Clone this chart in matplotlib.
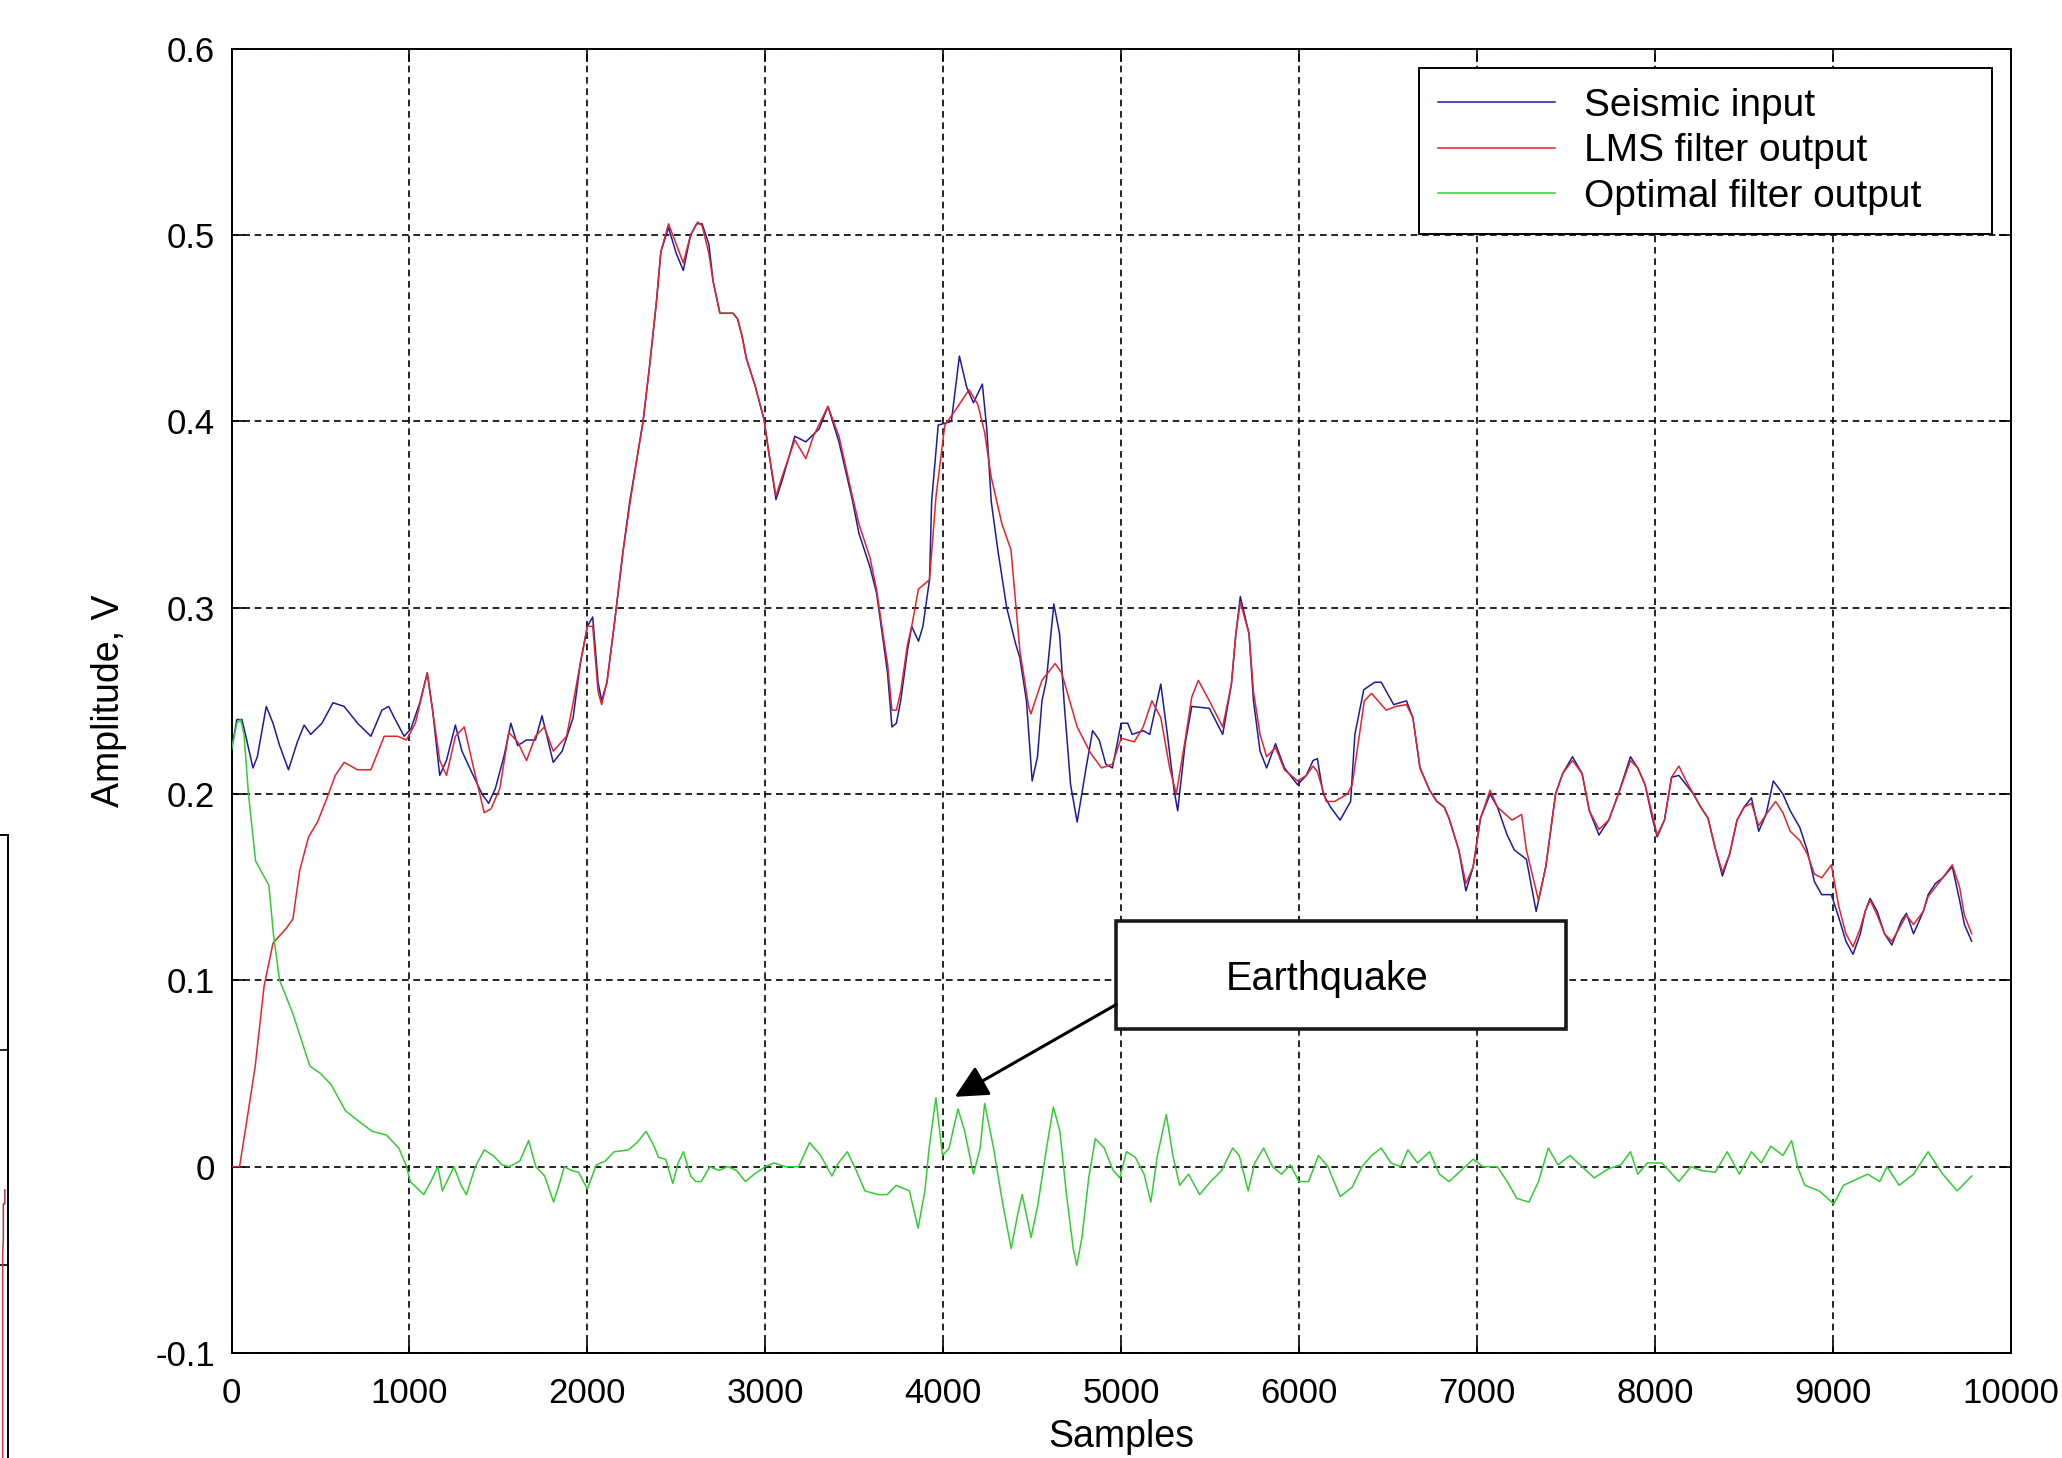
import matplotlib
matplotlib.use("Agg")
import matplotlib.pyplot as plt
from matplotlib.patches import Rectangle

plt.rcParams['font.family'] = ['Liberation Sans', 'DejaVu Sans']

# ---------------- data ----------------
seismic_x = [0, 30, 58, 78, 120, 145, 195, 233, 270, 320, 370, 408, 445, 508, 570, 633, 708, 783, 845, 883,
             920, 970, 1008, 1058, 1100, 1130, 1170, 1208, 1258, 1295, 1358, 1408, 1445, 1483, 1533, 1570,
             1608, 1658, 1708, 1745, 1808, 1858, 1920, 1960, 2000, 2030, 2060, 2080, 2110, 2150, 2200, 2238,
             2270, 2313, 2350, 2388, 2413, 2456, 2500, 2539, 2580, 2614, 2645, 2683, 2707, 2745, 2819, 2844,
             2869, 2893, 2943, 2993, 3017, 3060, 3100, 3166, 3228, 3303, 3352, 3414, 3489, 3526, 3588, 3625,
             3663, 3687, 3712, 3737, 3761, 3799, 3823, 3861, 3886, 3923, 3935, 3972, 4009, 4046, 4091, 4133,
             4170, 4220, 4245, 4270, 4307, 4357, 4406, 4431, 4468, 4500, 4530, 4555, 4580, 4622, 4654, 4679,
             4716, 4753, 4803, 4840, 4877, 4914, 4951, 5000, 5037, 5062, 5124, 5161, 5223, 5260, 5298, 5318,
             5360, 5397, 5496, 5571, 5620, 5645, 5670, 5719, 5744, 5781, 5818, 5868, 5918, 5992, 6041, 6079,
             6103, 6136, 6177, 6231, 6290, 6314, 6364, 6426, 6462, 6532, 6604, 6640, 6680, 6734, 6775, 6816,
             6843, 6898, 6938, 6979, 7020, 7074, 7115, 7170, 7210, 7278, 7333, 7387, 7442, 7482, 7537, 7591,
             7632, 7686, 7741, 7795, 7863, 7904, 7945, 7986, 8013, 8054, 8094, 8135, 8176, 8217, 8258, 8299,
             8339, 8380, 8421, 8462, 8502, 8543, 8584, 8625, 8666, 8720, 8761, 8815, 8856, 8897, 8938, 8992,
             9033, 9074, 9114, 9155, 9182, 9210, 9250, 9291, 9332, 9386, 9414, 9454, 9509, 9536, 9577, 9618,
             9672, 9713, 9740, 9781]
seismic_y = [0.224, 0.240, 0.240, 0.232, 0.214, 0.220, 0.247, 0.238, 0.226, 0.213, 0.228, 0.237, 0.232, 0.238,
             0.249, 0.247, 0.238, 0.231, 0.245, 0.247, 0.240, 0.231, 0.235, 0.249, 0.265, 0.245, 0.210, 0.218,
             0.237, 0.223, 0.210, 0.200, 0.195, 0.203, 0.221, 0.238, 0.226, 0.229, 0.229, 0.242, 0.217, 0.223,
             0.241, 0.270, 0.290, 0.295, 0.260, 0.250, 0.260, 0.290, 0.330, 0.357, 0.375, 0.400, 0.430, 0.464,
             0.491, 0.504, 0.490, 0.481, 0.500, 0.506, 0.506, 0.495, 0.475, 0.458, 0.458, 0.455, 0.446, 0.434,
             0.419, 0.401, 0.385, 0.358, 0.370, 0.392, 0.389, 0.396, 0.408, 0.389, 0.358, 0.340, 0.322, 0.308,
             0.282, 0.265, 0.236, 0.238, 0.250, 0.277, 0.290, 0.282, 0.290, 0.315, 0.357, 0.398, 0.399, 0.400,
             0.435, 0.418, 0.410, 0.420, 0.396, 0.357, 0.331, 0.300, 0.281, 0.273, 0.250, 0.207, 0.220, 0.250,
             0.261, 0.302, 0.286, 0.250, 0.205, 0.185, 0.214, 0.234, 0.229, 0.216, 0.214, 0.238, 0.238, 0.232,
             0.234, 0.232, 0.259, 0.232, 0.202, 0.191, 0.227, 0.247, 0.246, 0.232, 0.259, 0.286, 0.306, 0.286,
             0.250, 0.223, 0.214, 0.227, 0.214, 0.205, 0.210, 0.218, 0.219, 0.200, 0.193, 0.186, 0.196, 0.232,
             0.256, 0.260, 0.260, 0.248, 0.250, 0.241, 0.214, 0.202, 0.196, 0.193, 0.187, 0.170, 0.148, 0.161,
             0.187, 0.200, 0.193, 0.178, 0.170, 0.165, 0.137, 0.161, 0.200, 0.211, 0.220, 0.211, 0.191, 0.178,
             0.186, 0.200, 0.220, 0.214, 0.205, 0.187, 0.177, 0.186, 0.209, 0.210, 0.205, 0.200, 0.193, 0.187,
             0.171, 0.156, 0.168, 0.186, 0.193, 0.198, 0.180, 0.189, 0.207, 0.200, 0.191, 0.182, 0.170, 0.153,
             0.146, 0.146, 0.134, 0.121, 0.114, 0.125, 0.137, 0.144, 0.137, 0.125, 0.119, 0.132, 0.136, 0.125,
             0.137, 0.146, 0.152, 0.155, 0.161, 0.143, 0.130, 0.121]

lms_x = [0, 45, 83, 133, 183, 233, 308, 345, 383, 433, 483, 533, 583, 633, 708, 783, 858, 933, 983, 1033,
         1100, 1130, 1170, 1208, 1258, 1308, 1358, 1420, 1458, 1508, 1558, 1608, 1658, 1708, 1758, 1808,
         1883, 1920, 1960, 2000, 2030, 2060, 2080, 2110, 2150, 2200, 2238, 2270, 2313, 2350, 2388, 2413,
         2456, 2500, 2539, 2580, 2620, 2645, 2683, 2707, 2745, 2819, 2844, 2869, 2893, 2943, 2993, 3017,
         3060, 3100, 3166, 3228, 3270, 3352, 3414, 3489, 3526, 3588, 3625, 3663, 3687, 3712, 3737, 3761,
         3799, 3823, 3861, 3923, 3960, 4009, 4083, 4145, 4195, 4233, 4270, 4330, 4381, 4431, 4480, 4493,
         4555, 4629, 4666, 4753, 4828, 4890, 4951, 5000, 5074, 5124, 5173, 5223, 5273, 5310, 5360, 5397,
         5434, 5496, 5571, 5620, 5645, 5670, 5719, 5744, 5781, 5818, 5868, 5918, 5992, 6041, 6079, 6103,
         6153, 6200, 6272, 6299, 6340, 6367, 6408, 6490, 6544, 6604, 6640, 6680, 6734, 6775, 6816, 6843,
         6898, 6938, 6979, 7020, 7074, 7115, 7197, 7251, 7278, 7346, 7387, 7442, 7482, 7537, 7591, 7632,
         7686, 7741, 7795, 7863, 7904, 7945, 7986, 8013, 8054, 8094, 8135, 8176, 8217, 8258, 8299, 8339,
         8380, 8421, 8462, 8502, 8543, 8584, 8625, 8679, 8720, 8761, 8815, 8856, 8897, 8938, 8992, 9033,
         9074, 9114, 9155, 9182, 9210, 9250, 9291, 9332, 9386, 9414, 9454, 9509, 9536, 9577, 9618, 9672,
         9713, 9740, 9781]
lms_y = [0.000, 0.000, 0.023, 0.054, 0.097, 0.120, 0.128, 0.133, 0.159, 0.177, 0.185, 0.197, 0.210, 0.217,
         0.213, 0.213, 0.231, 0.231, 0.229, 0.238, 0.265, 0.245, 0.218, 0.210, 0.231, 0.236, 0.215, 0.190,
         0.192, 0.203, 0.233, 0.228, 0.218, 0.231, 0.236, 0.223, 0.231, 0.249, 0.270, 0.290, 0.290, 0.255,
         0.248, 0.260, 0.290, 0.330, 0.355, 0.375, 0.400, 0.430, 0.464, 0.491, 0.506, 0.495, 0.485, 0.500,
         0.507, 0.505, 0.490, 0.475, 0.458, 0.458, 0.455, 0.446, 0.434, 0.419, 0.401, 0.385, 0.360, 0.372,
         0.390, 0.380, 0.392, 0.408, 0.392, 0.360, 0.345, 0.327, 0.310, 0.285, 0.270, 0.245, 0.245, 0.255,
         0.280, 0.290, 0.310, 0.315, 0.360, 0.398, 0.408, 0.417, 0.409, 0.394, 0.370, 0.345, 0.331, 0.277,
         0.247, 0.243, 0.261, 0.270, 0.265, 0.236, 0.222, 0.214, 0.216, 0.230, 0.228, 0.236, 0.250, 0.241,
         0.214, 0.200, 0.229, 0.252, 0.261, 0.250, 0.236, 0.259, 0.286, 0.303, 0.286, 0.255, 0.232, 0.220,
         0.225, 0.213, 0.207, 0.210, 0.215, 0.212, 0.196, 0.196, 0.200, 0.205, 0.232, 0.250, 0.254, 0.245,
         0.247, 0.248, 0.241, 0.214, 0.202, 0.196, 0.193, 0.187, 0.170, 0.152, 0.161, 0.187, 0.202, 0.193,
         0.186, 0.189, 0.170, 0.143, 0.161, 0.200, 0.211, 0.218, 0.211, 0.191, 0.181, 0.186, 0.200, 0.218,
         0.214, 0.205, 0.189, 0.178, 0.186, 0.209, 0.215, 0.207, 0.200, 0.193, 0.187, 0.171, 0.158, 0.168,
         0.186, 0.193, 0.195, 0.183, 0.189, 0.196, 0.190, 0.180, 0.175, 0.168, 0.157, 0.155, 0.162, 0.140,
         0.125, 0.118, 0.128, 0.137, 0.143, 0.135, 0.125, 0.121, 0.130, 0.135, 0.130, 0.137, 0.145, 0.150,
         0.155, 0.162, 0.150, 0.135, 0.125]

optimal_x = [0, 30, 50, 70, 95, 135, 210, 235, 270, 345, 440, 500, 560, 640, 720, 790, 870, 940, 980, 1005,
             1080, 1120, 1160, 1185, 1250, 1290, 1320, 1370, 1420, 1470, 1520, 1560, 1620, 1670, 1710, 1760,
             1810, 1840, 1870, 1910, 1950, 2000, 2050, 2100, 2150, 2230, 2280, 2330, 2370, 2400, 2440, 2480,
             2510, 2540, 2580, 2610, 2639, 2689, 2739, 2789, 2838, 2888, 2938, 3000, 3050, 3112, 3187, 3249,
             3311, 3374, 3411, 3461, 3511, 3560, 3635, 3685, 3735, 3810, 3859, 3897, 3921, 3959, 3996, 4033,
             4083, 4121, 4170, 4208, 4233, 4283, 4333, 4382, 4420, 4444, 4494, 4531, 4581, 4619, 4656, 4693,
             4731, 4751, 4780, 4818, 4855, 4905, 4955, 4993, 5030, 5080, 5129, 5167, 5204, 5254, 5291, 5329,
             5379, 5441, 5503, 5565, 5627, 5664, 5714, 5751, 5801, 5851, 5901, 5951, 6000, 6054, 6109, 6163,
             6231, 6299, 6354, 6408, 6462, 6517, 6571, 6612, 6666, 6734, 6789, 6843, 6911, 6979, 7034, 7115,
             7170, 7224, 7292, 7346, 7401, 7455, 7523, 7591, 7659, 7741, 7809, 7863, 7904, 7958, 8040, 8135,
             8203, 8258, 8339, 8407, 8475, 8543, 8598, 8652, 8720, 8769, 8802, 8843, 8924, 9006, 9060, 9128,
             9196, 9264, 9305, 9373, 9454, 9536, 9618, 9699, 9781]
optimal_y = [0.224, 0.238, 0.240, 0.232, 0.200, 0.164, 0.151, 0.125, 0.100, 0.082, 0.054, 0.050, 0.044, 0.030,
             0.024, 0.019, 0.017, 0.010, 0.001, -0.008, -0.015, -0.008, 0.000, -0.013, 0.000, -0.010, -0.015,
             0.000, 0.009, 0.006, 0.001, 0.000, 0.003, 0.014, 0.000, -0.005, -0.019, -0.010, 0.000, -0.002,
             -0.003, -0.012, 0.001, 0.003, 0.008, 0.009, 0.013, 0.019, 0.012, 0.005, 0.004, -0.009, 0.002,
             0.008, -0.005, -0.008, -0.008, 0.000, -0.002, 0.000, -0.002, -0.008, -0.004, 0.000, 0.002, 0.000,
             0.000, 0.013, 0.006, -0.005, 0.002, 0.008, -0.002, -0.013, -0.015, -0.015, -0.010, -0.013, -0.033,
             -0.013, 0.010, 0.037, 0.006, 0.010, 0.031, 0.019, -0.004, 0.010, 0.034, 0.010, -0.019, -0.044,
             -0.025, -0.015, -0.038, -0.021, 0.010, 0.032, 0.019, -0.015, -0.044, -0.053, -0.038, -0.006, 0.015,
             0.010, -0.002, -0.006, 0.008, 0.005, -0.004, -0.019, 0.006, 0.028, 0.006, -0.010, -0.004, -0.015,
             -0.008, -0.002, 0.010, 0.006, -0.013, 0.002, 0.010, 0.000, -0.004, 0.001, -0.008, -0.008, 0.006,
             0.000, -0.016, -0.011, 0.000, 0.006, 0.010, 0.002, 0.000, 0.009, 0.002, 0.008, -0.004, -0.008,
             -0.002, 0.004, 0.000, 0.000, -0.008, -0.017, -0.019, -0.008, 0.010, 0.001, 0.006, 0.000, -0.006,
             -0.001, 0.001, 0.008, -0.004, 0.002, 0.002, -0.008, 0.000, -0.002, -0.003, 0.008, -0.004, 0.008,
             0.002, 0.011, 0.006, 0.014, 0.000, -0.010, -0.013, -0.020, -0.010, -0.007, -0.004, -0.008, 0.000,
             -0.010, -0.004, 0.008, -0.004, -0.013, -0.005]

series_labels = ['Seismic input', 'LMS filter output', 'Optimal filter output']
x_ticks = [0, 1000, 2000, 3000, 4000, 5000, 6000, 7000, 8000, 9000, 10000]
y_ticks = [-0.1, 0, 0.1, 0.2, 0.3, 0.4, 0.5, 0.6]
y_tick_labels = ['-0.1', '0', '0.1', '0.2', '0.3', '0.4', '0.5', '0.6']
annotation_text = 'Earthquake'
annotation_target = (4065, 0.0375)

# partial neighbouring chart visible at the left edge (cropped)
side_x = [0.975, 0.975, 0.978, 0.978, 0.985, 0.985]
side_y = [0.0, 0.40, 0.42, 0.47, 0.47, 0.49]

# ---------------- figure ----------------
fig = plt.figure(figsize=(20.62, 14.58), dpi=100)
ax = fig.add_axes([0.1123, 0.0720, 0.8628, 0.8946])

c_blue = '#1c1c9a'
c_red = '#e2242c'
c_green = '#33cc33'

ax.plot(seismic_x, seismic_y, color=c_blue, lw=1.1, label=series_labels[0], zorder=3)
ax.plot(lms_x, lms_y, color=c_red, lw=1.1, label=series_labels[1], zorder=3)
ax.plot(optimal_x, optimal_y, color=c_green, lw=1.1, label=series_labels[2], zorder=3)

ax.set_xlim(0, 10000)
ax.set_ylim(-0.1, 0.6)
ax.set_xticks(x_ticks)
ax.set_xticklabels([str(t) for t in x_ticks])
ax.set_yticks(y_ticks)
ax.set_yticklabels(y_tick_labels)
ax.tick_params(direction='in', length=9, width=1.2, top=True, right=True,
               labelsize=25, colors='black')
ax.tick_params(axis='x', pad=17)
ax.tick_params(axis='y', pad=12)
ax.set_axisbelow(True)
ax.grid(True, color='black', linestyle=(0, (4, 2.8)), linewidth=1.2)
for s in ax.spines.values():
    s.set_linewidth(1.4)
    s.set_color('black')

ax.set_xlabel('Samples', fontsize=27, labelpad=7)
ax.set_ylabel('Amplitude, V', fontsize=27, labelpad=20)

leg = ax.legend(loc='upper left', bbox_to_anchor=(0.6674, 0.9851, 0.3221, 0.0), mode='expand',
                borderaxespad=0, fontsize=28, frameon=True, fancybox=False, framealpha=1,
                borderpad=0.5, handlelength=3.0, handletextpad=0.75, labelspacing=0.25)
leg.get_frame().set_edgecolor('black')
leg.get_frame().set_linewidth(1.4)
leg.set_zorder(10)

# annotation box with arrow
ax.add_patch(Rectangle((4972, 0.0737), 2528, 0.058, facecolor='white', edgecolor='#1a1a1a',
                       lw=2.6, zorder=6))
ax.text(6160, 0.1008, annotation_text, fontsize=28.5, ha='center', va='center', zorder=7)
ax.annotate('', xy=annotation_target, xytext=(4972, 0.087),
            arrowprops=dict(arrowstyle='-|>,head_length=0.8,head_width=0.4', mutation_scale=25,
                            lw=2.2, color='black', shrinkA=0, shrinkB=0), zorder=7)

# cropped neighbouring axes at far left
ax2 = fig.add_axes([-0.1, -0.05, 0.1039, 0.4773])
ax2.set_xlim(0, 1)
ax2.set_ylim(0, 1)
ax2.plot(side_x, side_y, color='#c03040', lw=1.1)
ax2.set_xticks([])
ax2.set_yticks([0.382, 0.691])
ax2.tick_params(direction='in', length=9, width=1.2, left=False, right=True,
                labelleft=False, labelright=False)
for s in ax2.spines.values():
    s.set_linewidth(1.4)

fig.savefig('out.png', dpi=100)
